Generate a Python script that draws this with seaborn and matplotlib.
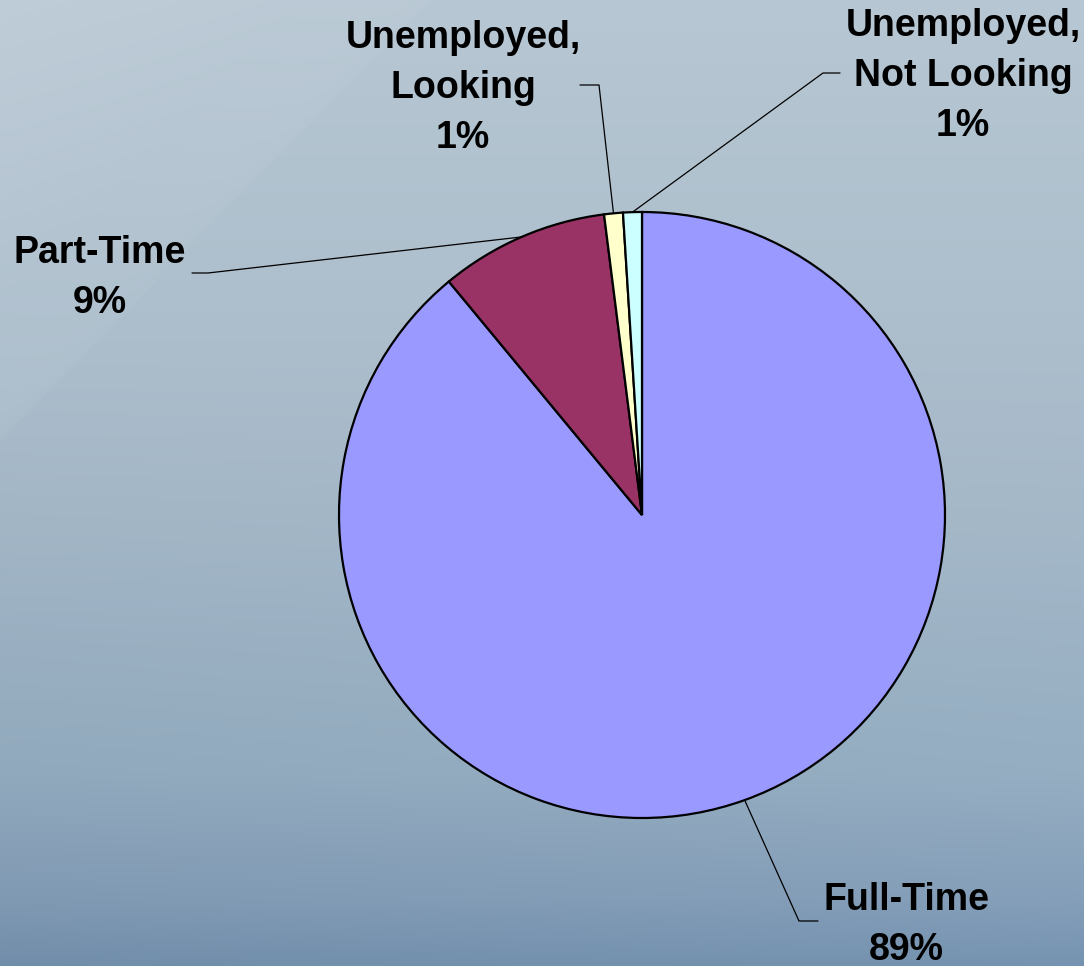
import numpy as np
import matplotlib
matplotlib.use("Agg")
import matplotlib.pyplot as plt
from matplotlib.colors import to_rgb
import seaborn as sns

# Employment status shares (percent)
categories = ["Full-Time", "Part-Time", "Unemployed,\nLooking", "Unemployed,\nNot Looking"]
shares = [89, 9, 1, 1]
slice_colors = ["#9999FF", "#993366", "#FFFFCC", "#CCFFFF"]

sns.set_theme(style="white")
plt.rcParams["font.family"] = ["Liberation Sans", "DejaVu Sans"]

W, H, DPI = 1084, 966, 100
fig = plt.figure(figsize=(W / DPI, H / DPI), dpi=DPI)

# ---- soft blue-grey backdrop ----
bg_ax = fig.add_axes([0, 0, 1, 1], zorder=0)
yy, xx = np.mgrid[0:H, 0:W].astype(float)
stops_y = np.array([0.0, 0.45, 0.80, 0.93, 1.0]) * H
stops_c = np.array([to_rgb(c) for c in ["#b7c7d3", "#a9bbca", "#95aec2", "#859fba", "#7593b0"]])
img = np.zeros((H, W, 3))
for k in range(3):
    img[..., k] = np.interp(yy[:, 0], stops_y, stops_c[:, k])[:, None]
# slightly deeper tone toward the lower left
shade = np.clip((yy / H - 0.35), 0, 1) * np.clip(1 - xx / W, 0, 1) * 0.06
img = img * (1 - shade[..., None])
# lighter sheen in the upper-left corner
d = xx / 430 + yy / 440
sheen = np.clip(1 - d, 0, 1) ** 0.6 * 0.10 + np.where(d < 1, 0.03, 0) * np.clip(1 - np.abs(d - 0.95) * 4, 0, 1)
img = img + (1 - img) * sheen[..., None]
bg_ax.imshow(np.clip(img, 0, 1), extent=(0, W, H, 0), aspect="auto")
bg_ax.set_axis_off()

# ---- pie ----
cx, cy, R = 642, 515, 303
ax = fig.add_axes([(cx - R) / W, (H - cy - R) / H, 2 * R / W, 2 * R / H], zorder=1)
wedges, _ = ax.pie(
    shares, colors=slice_colors, startangle=90, counterclock=False, radius=1.0,
    wedgeprops=dict(edgecolor="black", linewidth=1.6),
)
ax.set_xlim(-1, 1)
ax.set_ylim(-1, 1)
ax.set_aspect("equal")
ax.set_axis_off()


def to_data(px, py):
    return (px - cx) / R, (cy - py) / R


# label placement (pixel centres of text blocks) and leader elbows
label_pos = [(906, 925), (100, 278), (463, 88), (963, 76)]
elbows = [
    [(799, 921), (818, 921)],
    [(208, 273), (192, 273)],
    [(599, 85), (580, 85)],
    [(823, 73), (840, 73)],
]

for wedge, name, share, pos, elbow in zip(wedges, categories, shares, label_pos, elbows):
    mid = np.deg2rad((wedge.theta1 + wedge.theta2) / 2)
    pts = [(np.cos(mid), np.sin(mid))] + [to_data(*p) for p in elbow]
    xs, ys = zip(*pts)
    ax.plot(xs, ys, color="black", lw=0.9, clip_on=False, zorder=3)
    tx, ty = to_data(*pos)
    ax.text(tx, ty, f"{name}\n{share}%", ha="center", va="center",
            fontsize=27, fontweight="bold", color="black",
            linespacing=1.5, clip_on=False, zorder=4)

fig.savefig("out.png", dpi=DPI)
